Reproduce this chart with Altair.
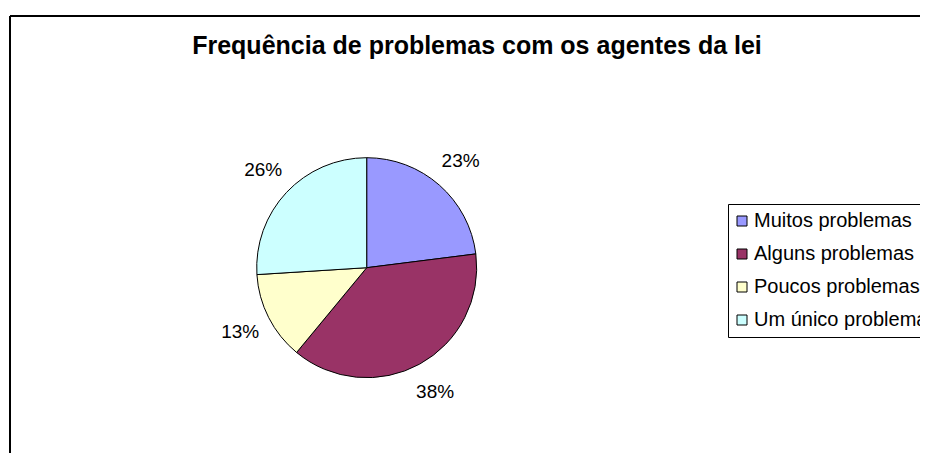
import altair as alt
import pandas as pd

categories = ["Muitos problemas", "Alguns problemas", "Poucos problemas", "Um único problema"]
shares = [23, 38, 13, 26]
labels = ["23%", "38%", "13%", "26%"]
colors = ["#9999FF", "#993366", "#FFFFCC", "#CCFFFF"]
title_text = "Frequência de problemas com os agentes da lei"

df = pd.DataFrame({"cat": categories, "share": shares, "label": labels, "idx": list(range(len(categories)))})

W, H = 910, 445
cx, cy = 356.7, 251.7
FONT = "Liberation Sans"

base = alt.Chart(df).encode(
    theta=alt.Theta("share:Q", stack=True),
    order=alt.Order("idx:Q"),
)

pie = base.mark_arc(outerRadius=110, stroke="black", strokeWidth=1).encode(
    x=alt.value(cx),
    y=alt.value(cy),
    color=alt.Color(
        "cat:N",
        scale=alt.Scale(domain=categories, range=colors),
        sort=categories,
        legend=alt.Legend(
            title=None,
            orient="none",
            legendX=718,
            legendY=188,
            symbolType="square",
            symbolSize=100,
            symbolStrokeColor="black",
            symbolStrokeWidth=1,
            symbolOpacity=1,
            symbolOffset=-3,
            labelFontSize=20,
            labelFont=FONT,
            labelColor="black",
            labelOffset=2,
            labelLimit=400,
            strokeColor="black",
            fillColor="white",
            padding=7,
            rowPadding=13,
            cornerRadius=0,
        ),
    ),
)

text = base.mark_text(radius=142, fontSize=19, font=FONT, color="black").encode(
    x=alt.value(cx),
    y=alt.value(cy),
    text="label:N",
)

title = alt.Chart(pd.DataFrame({"t": [title_text]})).mark_text(
    fontSize=25, fontWeight="bold", font=FONT, color="black", baseline="alphabetic", align="center"
).encode(
    text="t:N",
    x=alt.value(467),
    y=alt.value(38),
)

frame_df = pd.DataFrame({"k": [0]})
left_edge = alt.Chart(frame_df).mark_rule(color="black", strokeWidth=2).encode(
    x=alt.value(0), y=alt.value(0), y2=alt.value(H)
)
top_edge = alt.Chart(frame_df).mark_rule(color="black", strokeWidth=2).encode(
    x=alt.value(0), x2=alt.value(W), y=alt.value(0)
)

chart = alt.layer(left_edge, top_edge, pie, text, title).properties(
    width=W,
    height=H,
    padding={"left": 2, "top": 8, "right": 0, "bottom": 0},
    autosize=alt.AutoSizeParams(type="none"),
    background="white",
).configure_view(strokeWidth=0)

chart.save("out.html", embed_options={"renderer": "svg", "actions": False})
